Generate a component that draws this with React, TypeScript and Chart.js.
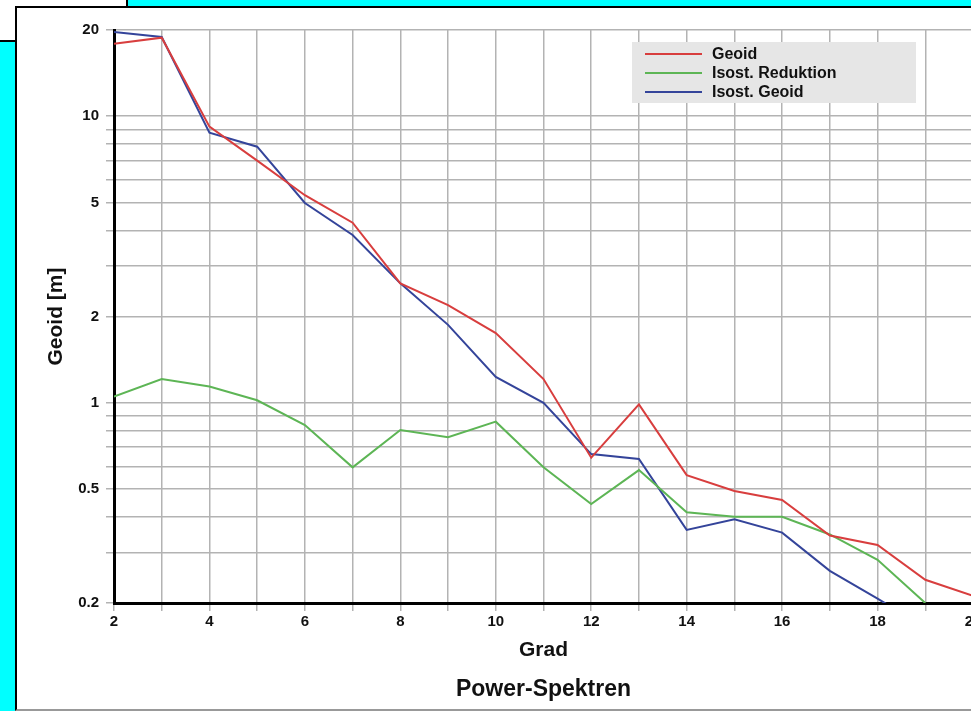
import React, { useEffect, useRef } from "react";
import { Chart, registerables } from "chart.js";

Chart.register(...registerables);

// ---- data ----
const degrees = [2, 3, 4, 5, 6, 7, 8, 9, 10, 11, 12, 13, 14, 15, 16, 17, 18, 19, 20];
const geoid = [17.9, 18.8, 9.2, 7.0, 5.3, 4.25, 2.61, 2.19, 1.75, 1.21, 0.643, 0.987, 0.559, 0.492, 0.458, 0.344, 0.319, 0.241, 0.212];
const isostReduktion = [1.05, 1.21, 1.14, 1.02, 0.836, 0.595, 0.803, 0.758, 0.859, 0.595, 0.443, 0.582, 0.415, 0.4, 0.4, 0.347, 0.283, 0.2];
const isostGeoid = [19.7, 18.9, 8.76, 7.83, 4.98, 3.85, 2.61, 1.87, 1.23, 1.0, 0.662, 0.636, 0.36, 0.392, 0.352, 0.259, 0.207, 0.165];

const seriesLabels = ["Geoid", "Isost. Reduktion", "Isost. Geoid"];
const seriesColors = ["#d83e3e", "#5db555", "#34449a"];

const xTickLabels = [2, 4, 6, 8, 10, 12, 14, 16, 18, 20];
const yGridValues = [0.2, 0.3, 0.4, 0.5, 0.6, 0.7, 0.8, 0.9, 1, 2, 3, 4, 5, 6, 7, 8, 9, 10, 20];
const yTickLabels = [0.2, 0.5, 1, 2, 5, 10, 20];

const xTitle = "Grad";
const yTitle = "Geoid [m]";
const chartTitle = "Power-Spektren";

const FONT = "'Liberation Sans', Arial, Helvetica, sans-serif";
const GRID = "#b3b3b3";

const toPoints = (vals: number[]) => vals.map((v, i) => ({ x: degrees[i], y: v }));

const overlayPlugin = {
  id: "overlay",
  afterDraw(chart: any) {
    const { ctx, chartArea } = chart;
    ctx.save();
    // legend box
    const bx = chartArea.left + 518;
    const by = chartArea.top + 12;
    ctx.fillStyle = "#e6e6e6";
    ctx.fillRect(bx, by, 284, 61);
    ctx.font = `bold 16px ${FONT}`;
    ctx.textBaseline = "middle";
    ctx.textAlign = "left";
    chart.data.datasets.forEach((ds: any, i: number) => {
      const y = by + 12 + i * 19;
      ctx.strokeStyle = ds.borderColor;
      ctx.lineWidth = 2;
      ctx.beginPath();
      ctx.moveTo(bx + 13, y);
      ctx.lineTo(bx + 70, y);
      ctx.stroke();
      ctx.fillStyle = "#111";
      ctx.fillText(ds.label, bx + 80, y + 1);
    });
    // chart title below
    ctx.font = `bold 23px ${FONT}`;
    ctx.textAlign = "center";
    ctx.fillStyle = "#111";
    ctx.fillText(chartTitle, (chartArea.left + chartArea.right) / 2, chart.height - 18);
    ctx.restore();
  },
};

export default function App() {
  const ref = useRef<HTMLCanvasElement>(null);

  useEffect(() => {
    const canvas = ref.current;
    if (!canvas) return;
    const all = [geoid, isostReduktion, isostGeoid];
    const chart = new Chart(canvas, {
      type: "line",
      data: {
        datasets: all.map((vals, i) => ({
          label: seriesLabels[i],
          data: toPoints(vals),
          borderColor: seriesColors[i],
          backgroundColor: seriesColors[i],
          borderWidth: 2,
          pointRadius: 0,
          tension: 0,
          fill: false,
        })),
      },
      options: {
        animation: false,
        responsive: false,
        devicePixelRatio: 1,
        layout: { padding: { left: 0, right: 23, top: 22, bottom: 0 } },
        plugins: {
          legend: { display: false },
          title: { display: false },
          tooltip: { enabled: false },
        },
        scales: {
          x: {
            type: "linear",
            min: 2,
            max: 20,
            ticks: {
              stepSize: 1,
              autoSkip: false,
              maxRotation: 0,
              padding: 2,
              color: "#111",
              font: { family: FONT, size: 15, weight: "bold" },
              callback: (v: any) => (xTickLabels.includes(Number(v)) ? String(v) : ""),
            },
            grid: { color: GRID, lineWidth: 1.5, drawTicks: true, tickLength: 8, tickColor: GRID },
            border: { color: "#000", width: 3 },
            title: {
              display: true,
              text: xTitle,
              color: "#111",
              font: { family: FONT, size: 21, weight: "bold" },
              padding: { top: 0, bottom: 45 },
            },
            afterFit: (s: any) => {
              s.height = 105;
            },
          },
          y: {
            type: "logarithmic",
            min: 0.2,
            max: 20,
            afterBuildTicks: (s: any) => {
              s.ticks = yGridValues.map((v) => ({ value: v }));
            },
            ticks: {
              autoSkip: false,
              padding: 7,
              color: "#111",
              font: { family: FONT, size: 15, weight: "bold" },
              callback: (v: any) => {
                const n = Number(v);
                const hit = yTickLabels.find((t) => Math.abs(t - n) < 1e-9);
                return hit !== undefined ? String(hit) : "";
              },
            },
            grid: { color: GRID, lineWidth: 1.5, drawTicks: true, tickLength: 8, tickColor: GRID },
            border: { color: "#000", width: 3 },
            title: {
              display: true,
              text: yTitle,
              color: "#111",
              font: { family: FONT, size: 21, weight: "bold" },
              padding: { top: 28, bottom: 0 },
            },
            afterFit: (s: any) => {
              s.width = 98;
            },
          },
        },
      },
      plugins: [overlayPlugin],
    } as any);
    return () => chart.destroy();
  }, []);

  return (
    <div
      style={{
        position: "fixed",
        left: 0,
        top: 0,
        width: 971,
        height: 711,
        background: "#00ffff",
        overflow: "hidden",
      }}
    >
      <div
        style={{
          position: "absolute",
          left: 0,
          top: 0,
          width: 126,
          height: 40,
          background: "#fff",
          borderRight: "2px solid #000",
          borderBottom: "2px solid #000",
        }}
      />
      <div
        style={{
          position: "absolute",
          left: 15,
          top: 6,
          width: 1000,
          height: 701,
          background: "#fff",
          borderLeft: "2px solid #000",
          borderTop: "2px solid #000",
          borderBottom: "2px solid #999",
        }}
      />
      <canvas
        ref={ref}
        width={980}
        height={700}
        style={{ position: "absolute", left: 16, top: 8, width: 980, height: 700 }}
      />
    </div>
  );
}
